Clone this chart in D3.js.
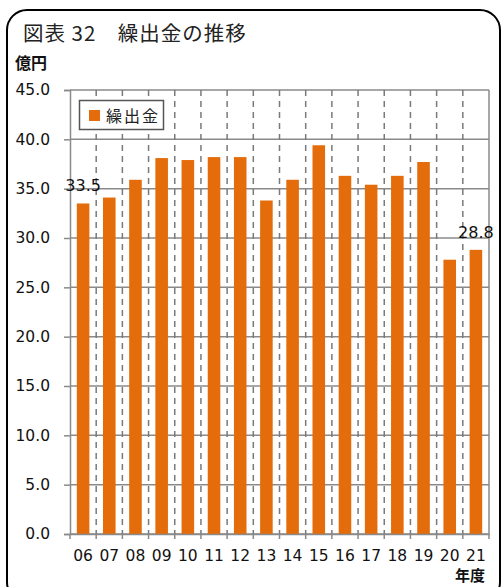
<!DOCTYPE html>
<html><head><meta charset="utf-8">
<script src="https://cdn.jsdelivr.net/npm/d3@7"></script>
<style>
html,body{margin:0;padding:0;background:#fff;}
svg{display:block;}
</style></head>
<body>
<script>
const categories = ["06","07","08","09","10","11","12","13","14","15","16","17","18","19","20","21"];
const values = [33.5,34.1,35.9,38.1,37.9,38.2,38.2,33.8,35.9,39.4,36.3,35.4,36.3,37.7,27.8,28.8];
const yTicks = [0,5,10,15,20,25,30,35,40,45];
const labelled = {"06":"33.5","21":"28.8"};
const seriesName = "繰出金";
const title = "図表 32　繰出金の推移";
const yUnit = "億円";
const xUnit = "年度";

const W = 501, H = 587;
const svg = d3.select("body").append("svg").attr("width", W).attr("height", H);
const m = {left:70, right:489, top:90, bottom:534};
const orange = "#E46C0A";
const gridC = "#8a8a8a";
const latin = "'DejaVu Sans', Verdana, sans-serif";
const cjk = "'Noto Sans CJK JP', sans-serif";

// outer rounded frame
svg.append("rect").attr("x",7).attr("y",10).attr("width",493).attr("height",592)
  .attr("rx",20).attr("fill","none").attr("stroke","#000").attr("stroke-width",2);

const x = d3.scaleBand().domain(categories).range([m.left, m.right]).paddingInner(0.52).paddingOuter(0.26);
const xb = d3.scaleBand().domain(categories).range([m.left, m.right]);
const y = d3.scaleLinear().domain([0,45]).range([m.bottom, m.top]);

// horizontal gridlines
svg.append("g").selectAll("line").data(yTicks).join("line")
  .attr("x1", m.left).attr("x2", m.right)
  .attr("y1", d=>y(d)).attr("y2", d=>y(d))
  .attr("stroke", gridC).attr("stroke-width",1.5);

// vertical dashed lines between bands
const bounds = categories.slice(1).map(c => xb(c));
svg.append("g").selectAll("line").data(bounds).join("line")
  .attr("x1", d=>d).attr("x2", d=>d)
  .attr("y1", m.top).attr("y2", m.bottom)
  .attr("stroke", "#7a7a7a").attr("stroke-width",1.5).attr("stroke-dasharray","6,5");

// right border
svg.append("line").attr("x1",m.right).attr("x2",m.right).attr("y1",m.top).attr("y2",m.bottom)
  .attr("stroke",gridC).attr("stroke-width",1.5);

// bars
svg.append("g").selectAll("rect").data(categories).join("rect")
  .attr("x", d=>x(d)).attr("width", x.bandwidth())
  .attr("y", (d,i)=>y(values[i])).attr("height", (d,i)=>y(0)-y(values[i]))
  .attr("fill", orange);

// y axis
const yAxis = d3.axisLeft(y).tickValues(yTicks).tickFormat(d3.format(".1f")).tickSize(6).tickPadding(14);
const gy = svg.append("g").attr("transform",`translate(${m.left},0)`).call(yAxis);
gy.select(".domain").attr("stroke",gridC).attr("stroke-width",1.5);
gy.selectAll(".tick line").attr("stroke",gridC).attr("stroke-width",1.5);
gy.selectAll("text").attr("font-family",latin).attr("font-size",15.5).attr("fill","#111");

// x axis
const xAxis = d3.axisBottom(xb).tickSize(0).tickPadding(16);
const gx = svg.append("g").attr("transform",`translate(0,${m.bottom})`).call(xAxis);
gx.select(".domain").attr("stroke",gridC).attr("stroke-width",1.5);
gx.selectAll("text").attr("font-family",latin).attr("font-size",15.5).attr("fill","#111");
// small ticks at band boundaries
svg.append("g").selectAll("line").data([m.left, ...bounds, m.right]).join("line")
  .attr("x1", d=>d).attr("x2", d=>d).attr("y1", m.bottom).attr("y2", m.bottom+5)
  .attr("stroke", gridC).attr("stroke-width",1.5);

// data labels
svg.append("g").selectAll("text").data(categories.filter(c=>labelled[c])).join("text")
  .attr("x", d=>x(d)+x.bandwidth()/2)
  .attr("y", d=>y(values[categories.indexOf(d)]) - 12)
  .attr("text-anchor","middle")
  .attr("font-family",latin).attr("font-size",16).attr("fill","#111")
  .text(d=>labelled[d]);

// legend
const lg = svg.append("g");
lg.append("rect").attr("x",79.5).attr("y",100.5).attr("width",84).attr("height",29)
  .attr("fill","#fff").attr("stroke","#555").attr("stroke-width",1.5);
lg.append("rect").attr("x",89).attr("y",110).attr("width",11).attr("height",11).attr("fill",orange);
lg.append("text").attr("x",106).attr("y",121.5).attr("font-family",cjk).attr("font-size",16)
  .attr("letter-spacing",2).attr("fill","#222").text(seriesName);

// title
svg.append("text").attr("x",23).attr("y",41).attr("font-family",cjk).attr("font-size",20.5)
  .attr("letter-spacing",1).attr("fill","#222").text(title);
svg.append("text").attr("x",15).attr("y",69).attr("font-family",cjk).attr("font-size",16)
  .attr("font-weight","bold").attr("fill","#111").text(yUnit);
svg.append("text").attr("x",455).attr("y",581).attr("font-family",cjk).attr("font-size",15)
  .attr("font-weight","bold").attr("fill","#111").text(xUnit);
</script>
</body></html>
